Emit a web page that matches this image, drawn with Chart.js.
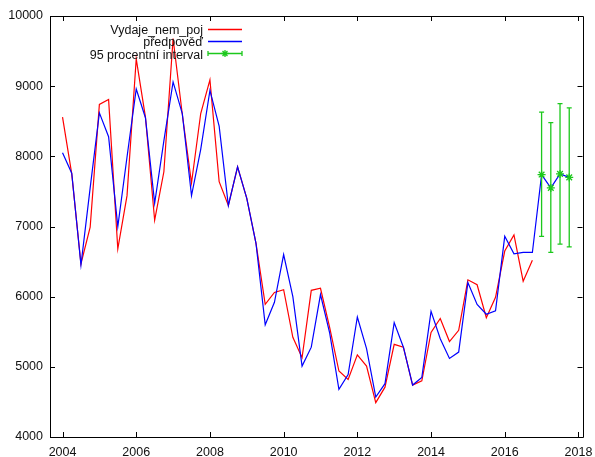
<!DOCTYPE html>
<html>
<head>
<meta charset="utf-8">
<script src="https://cdn.jsdelivr.net/npm/chart.js@4/dist/chart.umd.min.js"></script>
<style>
  html, body { margin: 0; padding: 0; background: #fff; }
  canvas { display: block; }
</style>
</head>
<body>
<canvas id="c" width="595" height="457"></canvas>
<script>
// Quarterly periods (decimal years)
const periods = [
  2004.00, 2004.25, 2004.50, 2004.75, 2005.00, 2005.25, 2005.50, 2005.75,
  2006.00, 2006.25, 2006.50, 2006.75, 2007.00, 2007.25, 2007.50, 2007.75,
  2008.00, 2008.25, 2008.50, 2008.75, 2009.00, 2009.25, 2009.50, 2009.75,
  2010.00, 2010.25, 2010.50, 2010.75, 2011.00, 2011.25, 2011.50, 2011.75,
  2012.00, 2012.25, 2012.50, 2012.75, 2013.00, 2013.25, 2013.50, 2013.75,
  2014.00, 2014.25, 2014.50, 2014.75, 2015.00, 2015.25, 2015.50, 2015.75,
  2016.00, 2016.25, 2016.50, 2016.75, 2017.00, 2017.25, 2017.50, 2017.75
];

// Observed expenditure (through 2016 Q4)
const vydaje = [
  8560, 7750, 6470, 6990, 8740, 8810, 6680, 7440,
  9390, 8560, 7090, 7780, 9680, 8600, 7620, 8610,
  9090, 7640, 7300, 7850, 7400, 6760, 5890, 6060,
  6100, 5420, 5130, 6090, 6120, 5560, 4940, 4820,
  5170, 5010, 4490, 4710, 5320, 5280, 4740, 4800,
  5490, 5690, 5360, 5520, 6240, 6170, 5700, 5990,
  6650, 6880, 6220, 6520
];

// Model fit and forecast (through 2017 Q4)
const predpoved = [
  8050, 7760, 6450, 7550, 8620, 8280, 7000, 7990,
  8960, 8550, 7330, 8220, 9060, 8610, 7440, 8100,
  8940, 8430, 7300, 7850, 7400, 6760, 5600, 5920,
  6600, 6000, 5010, 5280, 6030, 5480, 4680, 4890,
  5710, 5260, 4570, 4760, 5630, 5280, 4740, 4850,
  5790, 5400, 5120, 5210, 6200, 5890, 5750, 5800,
  6860, 6610, 6630, 6630, 7740, 7550, 7750, 7700
];

// 95 % interval of the forecast
const ciPeriods = [2017.00, 2017.25, 2017.50, 2017.75];
const ciCenter  = [7740, 7550, 7750, 7700];
const ciLow     = [6860, 6630, 6750, 6710];
const ciHigh    = [8630, 8480, 8750, 8690];

// Axis ticks
const yearTicks  = [2004, 2006, 2008, 2010, 2012, 2014, 2016, 2018];
const valueTicks = [4000, 5000, 6000, 7000, 8000, 9000, 10000];

const seriesNames = ['Vydaje_nem_poj', 'předpověď', '95 procentní interval'];

const RED = '#ff0000';
const BLUE = '#0000ff';
const GREEN = '#1cc81c';
const FONT = { family: '"Liberation Sans", Arial, sans-serif', size: 12.5 };

function pairs(xs, ys) {
  return ys.map((y, i) => ({ x: xs[i], y: y }));
}

// Error bars with caps, drawn through the scales
const errorBars = {
  id: 'errorBars',
  afterDatasetsDraw(chart) {
    const { ctx, scales: { x, y } } = chart;
    ctx.save();
    ctx.strokeStyle = GREEN;
    ctx.lineWidth = 1.3;
    const cap = 2.5;
    ciPeriods.forEach((p, i) => {
      const px = x.getPixelForValue(p);
      const lo = y.getPixelForValue(ciLow[i]);
      const hi = y.getPixelForValue(ciHigh[i]);
      ctx.beginPath();
      ctx.moveTo(px, lo); ctx.lineTo(px, hi);
      ctx.moveTo(px - cap, lo); ctx.lineTo(px + cap, lo);
      ctx.moveTo(px - cap, hi); ctx.lineTo(px + cap, hi);
      ctx.stroke();
    });
    ctx.restore();
  }
};

// Closed frame with inward tick marks on all four sides
const frame = {
  id: 'frame',
  afterDraw(chart) {
    const { ctx, chartArea: a, scales: { x, y } } = chart;
    const len = 5;
    ctx.save();
    ctx.strokeStyle = '#000';
    ctx.lineWidth = 1;
    ctx.beginPath();
    ctx.rect(Math.round(a.left) + 0.5, Math.round(a.top) + 0.5,
             Math.round(a.right - a.left), Math.round(a.bottom - a.top));
    ctx.stroke();
    ctx.beginPath();
    yearTicks.forEach(v => {
      const px = Math.round(x.getPixelForValue(v)) + 0.5;
      ctx.moveTo(px, a.bottom); ctx.lineTo(px, a.bottom - len);
      ctx.moveTo(px, a.top); ctx.lineTo(px, a.top + len);
    });
    valueTicks.forEach(v => {
      const py = Math.round(y.getPixelForValue(v)) + 0.5;
      ctx.moveTo(a.left, py); ctx.lineTo(a.left + len, py);
      ctx.moveTo(a.right, py); ctx.lineTo(a.right - len, py);
    });
    ctx.stroke();
    ctx.restore();
  }
};

// Key in the upper left: right-aligned titles followed by line samples
const key = {
  id: 'key',
  afterDraw(chart) {
    const { ctx, chartArea: a } = chart;
    const textRight = a.left + 153;
    const sx0 = a.left + 158, sx1 = a.left + 192;
    const rows = [a.top + 14.5, a.top + 26.8, a.top + 39.1];
    ctx.save();
    ctx.font = FONT.size + 'px ' + FONT.family;
    ctx.fillStyle = '#111';
    ctx.textAlign = 'right';
    ctx.textBaseline = 'middle';
    const colors = [RED, BLUE, GREEN];
    rows.forEach((ty, i) => {
      ctx.fillText(seriesNames[i], textRight, ty);
      const ly = Math.round(ty - 2) + 0.5;
      ctx.strokeStyle = colors[i];
      ctx.lineWidth = 1.3;
      ctx.beginPath();
      ctx.moveTo(sx0, ly); ctx.lineTo(sx1, ly);
      if (i === 2) {
        ctx.moveTo(sx0, ly - 2.5); ctx.lineTo(sx0, ly + 2.5);
        ctx.moveTo(sx1, ly - 2.5); ctx.lineTo(sx1, ly + 2.5);
      }
      ctx.stroke();
      if (i === 2) {
        const cx = (sx0 + sx1) / 2, r = 3.5, d = r * 0.7071;
        ctx.beginPath();
        ctx.moveTo(cx - r, ly); ctx.lineTo(cx + r, ly);
        ctx.moveTo(cx, ly - r); ctx.lineTo(cx, ly + r);
        ctx.moveTo(cx - d, ly - d); ctx.lineTo(cx + d, ly + d);
        ctx.moveTo(cx - d, ly + d); ctx.lineTo(cx + d, ly - d);
        ctx.stroke();
      }
    });
    ctx.restore();
  }
};

new Chart(document.getElementById('c'), {
  type: 'line',
  data: {
    datasets: [
      {
        label: seriesNames[0],
        data: pairs(periods, vydaje),
        borderColor: RED,
        borderWidth: 1.2,
        pointRadius: 0,
        tension: 0,
        order: 2
      },
      {
        label: seriesNames[1],
        data: pairs(periods, predpoved),
        borderColor: BLUE,
        borderWidth: 1.2,
        pointRadius: 0,
        tension: 0,
        order: 1
      },
      {
        label: seriesNames[2],
        data: pairs(ciPeriods, ciCenter),
        showLine: false,
        borderColor: GREEN,
        backgroundColor: GREEN,
        pointStyle: 'star',
        pointRadius: 4,
        pointBorderWidth: 1.3,
        order: 0
      }
    ]
  },
  options: {
    responsive: false,
    animation: false,
    devicePixelRatio: 1,
    layout: { padding: { left: 0, right: 12.5, top: 16, bottom: 0 } },
    plugins: { legend: { display: false }, tooltip: { enabled: false } },
    scales: {
      x: {
        type: 'linear',
        min: 2003.66,
        max: 2018.11,
        grid: { display: false, drawTicks: false },
        border: { display: false },
        afterBuildTicks: s => { s.ticks = yearTicks.map(v => ({ value: v })); },
        afterFit: s => { s.height = 20; s.paddingLeft = 0; s.paddingRight = 0; },
        ticks: {
          color: '#111',
          font: FONT,
          padding: 8,
          maxRotation: 0,
          autoSkip: false,
          callback: v => String(v)
        }
      },
      y: {
        type: 'linear',
        min: 4000,
        max: 10000,
        grid: { display: false, drawTicks: false },
        border: { display: false },
        afterBuildTicks: s => { s.ticks = valueTicks.map(v => ({ value: v })); },
        afterFit: s => { s.width = 50; s.paddingTop = 0; s.paddingBottom = 0; },
        ticks: {
          color: '#111',
          font: FONT,
          padding: 7,
          autoSkip: false,
          callback: v => String(v)
        }
      }
    }
  },
  plugins: [errorBars, frame, key]
});
</script>
</body>
</html>
